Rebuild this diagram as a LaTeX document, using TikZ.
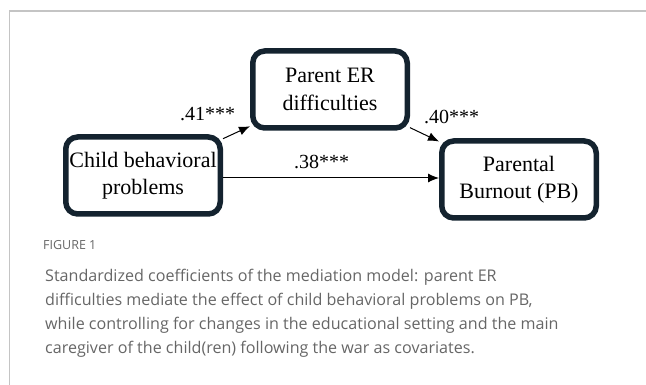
\documentclass[tikz,border=0pt]{standalone}
\usepackage{fontspec}
\setmainfont{Liberation Serif}
\newfontfamily\capfont{Open Sans}
\usepackage{tikz}
\usetikzlibrary{arrows.meta}
\definecolor{boxline}{HTML}{14232F}
\definecolor{capgrey}{HTML}{666666}
\definecolor{framegrey}{HTML}{C4C4C4}

\begin{document}
\begin{tikzpicture}[x=1pt, y=-1pt, >={Latex[length=11pt,width=9pt]},
  var/.style={draw=boxline, line width=5.5pt, rounded corners=12pt, minimum width=154.5pt,
    minimum height=77pt, align=center, font=\fontsize{22}{27.5}\selectfont},
  coef/.style={font=\fontsize{20}{22}\selectfont, inner sep=1pt}]
  \useasboundingbox (0,0) rectangle (646,385);
  \draw[framegrey, line width=1.5pt] (9.5,385) -- (9.5,11) -- (646,11);

  \node[var] (child) at (143,175.5) {Child behavioral\\problems};
  \node[var] (erdiff) at (330,89.5) {Parent ER\\difficulties};
  \node[var] (pb) at (519,179.5) {Parental\\Burnout (PB)};

  \path[->, line width=1pt]
  (child) edge node [pos=0.5, anchor=south east, yshift=10pt, coef] {.41***} (erdiff)
  (erdiff) edge node [pos=0.5, anchor=south west, xshift=-2pt, yshift=9.5pt, coef] {.40***} (pb)
  ([yshift=-2.5pt]child.east) edge node [pos=0.457, above=7.4pt, coef] {.38***} ([yshift=-2.5pt]child.east -| pb.west)
  ;

  \node[anchor=base west, inner sep=0pt, text=capgrey, font=\capfont\fontsize{12.5}{15}\selectfont] (fig) at (43,250) {FIGURE 1};
  \node[anchor=base west, text=capgrey, align=left, inner sep=0pt,
    font=\capfont\fontsize{16.1}{24.2}\selectfont] (cap) at (45,353.6)
    {Standardized coefficients of the mediation model: parent ER\\
     difficulties mediate the effect of child behavioral problems on PB,\\
     while controlling for changes in the educational setting and the main\\
     caregiver of the child(ren) following the war as covariates.};
\end{tikzpicture}
\end{document}
